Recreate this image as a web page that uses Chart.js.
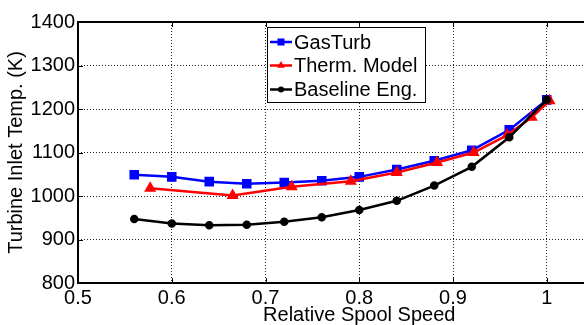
<!DOCTYPE html>
<html>
<head>
<meta charset="utf-8">
<script src="https://cdn.jsdelivr.net/npm/chart.js@4/dist/chart.umd.min.js"></script>
<style>
  html, body { margin: 0; padding: 0; background: #fff; overflow: hidden; }
  #wrap { width: 648px; height: 325px; }
</style>
</head>
<body>
<div id="wrap"><canvas id="tit" width="648" height="325"></canvas></div>
<script>
// relative spool speed of the reference runs (GasTurb + baseline engine)
const speedSteps = [0.56, 0.60, 0.64, 0.68, 0.72, 0.76, 0.80, 0.84, 0.88, 0.92, 0.96, 1.00]
const gasTurbTemp = [1049, 1044, 1033, 1028, 1031, 1035, 1044, 1061, 1081, 1105, 1152, 1221]
const baselineTemp = [947, 937, 933, 934, 941, 951, 968, 989, 1024, 1067, 1135, 1221]

// thermodynamic model has its own speed points
const thermSpeed = [0.577, 0.665, 0.728, 0.791, 0.840, 0.883, 0.922, 0.958, 0.984, 1.003]
const thermTemp = [1018, 1001, 1021, 1034, 1054, 1077, 1100, 1140, 1181, 1219]

const xTickLabels = ['0.5', '0.6', '0.7', '0.8', '0.9', '1']
const yTickLabels = ['800', '900', '1000', '1100', '1200', '1300', '1400']

const FONT = 'Liberation Sans, Arial, Helvetica, sans-serif'

const toPoints = (xs, ys) => xs.map((x, i) => ({ x: x, y: ys[i] }))

// matlab-style box: solid frame + inward tick marks
const framePlugin = {
    id: 'frame',
    beforeDatasetsDraw(chart) {
        const { ctx, chartArea: a, scales } = chart
        ctx.save()
        ctx.strokeStyle = '#000'
        ctx.lineWidth = 1
        ctx.beginPath()
        scales.x.ticks.forEach(t => {
            const px = Math.round(scales.x.getPixelForValue(t.value)) + 0.5
            ctx.moveTo(px, a.bottom); ctx.lineTo(px, a.bottom - 5)
            ctx.moveTo(px, a.top); ctx.lineTo(px, a.top + 5)
        })
        scales.y.ticks.forEach(t => {
            const py = Math.round(scales.y.getPixelForValue(t.value)) + 0.5
            ctx.moveTo(a.left, py); ctx.lineTo(a.left + 5, py)
        })
        ctx.stroke()

        ctx.lineWidth = 2
        ctx.beginPath()
        ctx.moveTo(a.right + 2, a.top)
        ctx.lineTo(a.left, a.top)
        ctx.lineTo(a.left, a.bottom)
        ctx.lineTo(a.right + 2, a.bottom)
        ctx.stroke()
        ctx.restore()
    }
}

function drawMarker(ctx, style, x, y, r, color) {
    ctx.fillStyle = color
    ctx.beginPath()
    if (style === 'rect') {
        const s = r * Math.SQRT1_2
        ctx.rect(x - s, y - s, 2 * s, 2 * s)
    } else if (style === 'triangle') {
        ctx.moveTo(x, y - r)
        ctx.lineTo(x + r * 0.866, y + r * 0.5)
        ctx.lineTo(x - r * 0.866, y + r * 0.5)
        ctx.closePath()
    } else {
        ctx.arc(x, y, r, 0, Math.PI * 2)
    }
    ctx.fill()
}

// boxed legend inside the plot, line + marker per series
const boxLegend = {
    id: 'boxLegend',
    afterDraw(chart) {
        const { ctx } = chart
        const box = { x: 267.5, y: 27.5, w: 158, h: 75 }
        ctx.save()
        ctx.fillStyle = '#fff'
        ctx.fillRect(box.x, box.y, box.w, box.h)
        ctx.strokeStyle = '#000'
        ctx.lineWidth = 1
        ctx.strokeRect(box.x, box.y, box.w, box.h)

        const rows = [42, 65.5, 89.5]
        ctx.font = '20px ' + FONT
        ctx.textBaseline = 'middle'
        ctx.textAlign = 'left'
        chart.data.datasets.forEach((ds, i) => {
            const y = rows[i]
            ctx.strokeStyle = ds.borderColor
            ctx.lineWidth = ds.borderWidth
            ctx.beginPath()
            ctx.moveTo(270, y)
            ctx.lineTo(292, y)
            ctx.stroke()
            drawMarker(ctx, ds.pointStyle, 281, y, ds.pointRadius, ds.borderColor)
            ctx.fillStyle = '#000'
            ctx.fillText(ds.label, 294, y + 1)
        })
        ctx.restore()
    }
}

const axisFont = { family: FONT, size: 20 }

new Chart(document.getElementById('tit'), {
    type: 'line',
    data: {
        datasets: [
            {
                label: 'GasTurb',
                data: toPoints(speedSteps, gasTurbTemp),
                borderColor: '#0000ff',
                backgroundColor: '#0000ff',
                borderWidth: 2.5,
                pointStyle: 'rect',
                pointRadius: 5,
                order: 3
            },
            {
                label: 'Therm. Model',
                data: toPoints(thermSpeed, thermTemp),
                borderColor: '#ff0000',
                backgroundColor: '#ff0000',
                borderWidth: 2.5,
                pointStyle: 'triangle',
                pointRadius: 4.5,
                order: 2
            },
            {
                label: 'Baseline Eng.',
                data: toPoints(speedSteps, baselineTemp),
                borderColor: '#000000',
                backgroundColor: '#000000',
                borderWidth: 2.5,
                pointStyle: 'circle',
                pointRadius: 3,
                order: 1
            }
        ]
    },
    options: {
        responsive: false,
        animation: false,
        layout: { padding: { top: 22, right: 0, bottom: 0, left: 0 } },
        elements: { line: { tension: 0 }, point: { borderWidth: 0 } },
        plugins: {
            legend: { display: false },
            tooltip: { enabled: false }
        },
        scales: {
            x: {
                type: 'linear',
                min: 0.5,
                max: 1.1,
                afterFit(scale) {
                    scale.height = 42
                    scale.paddingLeft = 0
                    scale.paddingRight = 0
                },
                ticks: {
                    stepSize: 0.1,
                    padding: 3,
                    color: '#000',
                    font: axisFont,
                    maxRotation: 0,
                    autoSkip: false,
                    callback: v => xTickLabels[Math.round((v - 0.5) * 10)] || ''
                },
                grid: { color: '#222', lineWidth: 1, drawTicks: false },
                border: { display: false, dash: [1, 2] },
                title: {
                    display: true,
                    text: 'Relative Spool Speed',
                    color: '#000',
                    font: { family: FONT, size: 20, lineHeight: 1 },
                    padding: 0
                }
            },
            y: {
                min: 800,
                max: 1400,
                afterFit(scale) {
                    scale.width = 78
                    scale.paddingTop = 0
                    scale.paddingBottom = 0
                },
                ticks: {
                    stepSize: 100,
                    padding: 3,
                    color: '#000',
                    font: axisFont,
                    callback: v => yTickLabels[Math.round((v - 800) / 100)] || ''
                },
                grid: { color: '#222', lineWidth: 1, drawTicks: false },
                border: { display: false, dash: [1, 2] },
                title: {
                    display: true,
                    text: 'Turbine Inlet Temp. (K)',
                    color: '#000',
                    font: { family: FONT, size: 20, lineHeight: 1 },
                    padding: { top: 6, bottom: 0 }
                }
            }
        }
    },
    plugins: [framePlugin, boxLegend]
})
</script>
</body>
</html>
